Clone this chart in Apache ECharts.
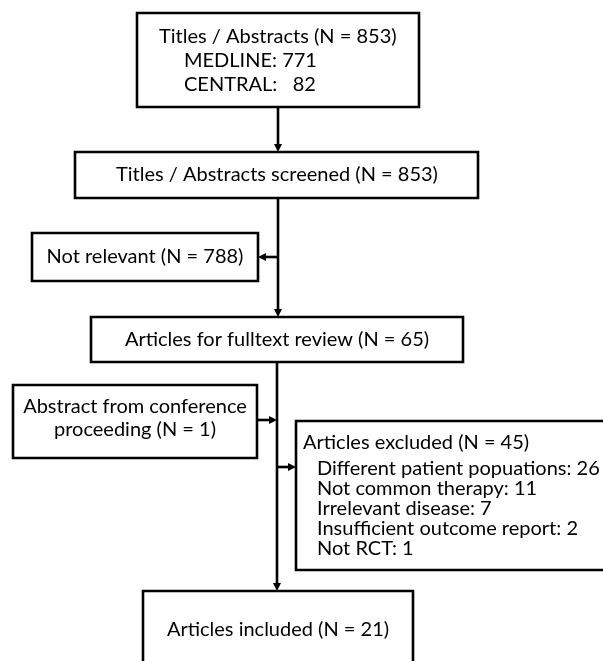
<!DOCTYPE html>
<html><head><meta charset="utf-8">
<script src="https://cdn.jsdelivr.net/npm/echarts@6/dist/echarts.min.js"></script>
<style>html,body{margin:0;padding:0;background:#fff}#c{width:603px;height:661px}</style>
</head><body><div id="c"></div>
<script>
// ---- data ----
const sourceNames = ['MEDLINE', 'CENTRAL'];
const sourceCounts = [771, 82];
const stageLabels = ['Titles / Abstracts', 'Titles / Abstracts screened', 'Not relevant',
  'Articles for fulltext review', 'Abstract from conference\nproceeding', 'Articles excluded', 'Articles included'];
const stageCounts = [853, 853, 788, 65, 1, 45, 21];
const exclusionReasons = ['Different patient popuations', 'Not common therapy', 'Irrelevant disease',
  'Insufficient outcome report', 'Not RCT'];
const exclusionCounts = [26, 11, 7, 2, 1];

// ---- layout (chart units on hidden axes) ----
const boxLayout = [
  [137, 13, 419, 107],
  [75, 152, 478, 198],
  [32, 233, 258, 281],
  [91, 317, 463, 362],
  [13, 385, 257, 458],
  [296, 421, 625, 570],
  [143, 591, 413, 720]
];
const arrowLayout = [
  [278, 107, 278, 152],
  [278, 198, 278, 317],
  [278, 257, 258, 257],
  [277, 362, 277, 591],
  [257, 420, 277, 420],
  [277, 467, 296, 467]
];

const FONT = 'Lato';
function textW(s, fs) { const c = document.createElement('canvas').getContext('2d'); c.font = fs + 'px ' + FONT; return c.measureText(s).width; }
const lbl = i => stageLabels[i] + ' (N = ' + stageCounts[i] + ')';
// fit font size to reference text widths
const fitPairs = [[lbl(0), 229], [lbl(1), 320], [lbl(3), 305], [lbl(5), 225],
  [exclusionReasons[3] + ': ' + exclusionCounts[3], 265], [exclusionReasons[0] + ': ' + exclusionCounts[0], 286]];
let sm = 0, st = 0;
fitPairs.forEach(p => { sm += textW(p[0], 20); st += p[1]; });
const fs = Math.round(20 * st / sm * 10) / 10;

const texts = [];
texts.push({ value: [159, 37], text: lbl(0), align: 'left' });
texts.push({ value: [184, 61], text: sourceNames[0] + ': ' + sourceCounts[0], align: 'left' });
texts.push({ value: [184, 85], text: sourceNames[1] + ':   ' + sourceCounts[1], align: 'left' });
texts.push({ value: [277, 175], text: lbl(1), align: 'center' });
texts.push({ value: [145, 257], text: lbl(2), align: 'center' });
texts.push({ value: [277, 340], text: lbl(3), align: 'center' });
texts.push({ value: [135, 418.5], text: lbl(4), align: 'center', lh: 23 });
texts.push({ value: [303, 443], text: lbl(5), align: 'left' });
exclusionReasons.forEach((r, i) => {
  texts.push({ value: [317, 469 + 19.8 * i], text: r + ': ' + exclusionCounts[i], align: 'left' });
});
texts.push({ value: [278, 630], text: lbl(6), align: 'center' });

const chart = echarts.init(document.getElementById('c'), null, { renderer: 'canvas' });
chart.setOption({
  animation: false,
  backgroundColor: '#fff',
  grid: { left: 0, right: 0, top: 0, bottom: 0 },
  xAxis: { type: 'value', min: 0, max: 603, show: false },
  yAxis: { type: 'value', min: 0, max: 661, inverse: true, show: false },
  series: [
    {
      type: 'custom', coordinateSystem: 'cartesian2d', clip: false,
      data: boxLayout,
      renderItem: (params, api) => {
        const p0 = api.coord([api.value(0), api.value(1)]);
        const p1 = api.coord([api.value(2), api.value(3)]);
        return { type: 'rect', shape: { x: p0[0], y: p0[1], width: p1[0] - p0[0], height: p1[1] - p0[1] },
          style: { fill: '#fff', stroke: '#000', lineWidth: 2.6 } };
      }
    },
    {
      type: 'custom', coordinateSystem: 'cartesian2d', clip: false,
      data: arrowLayout,
      renderItem: (params, api) => {
        const a = api.coord([api.value(0), api.value(1)]);
        const b = api.coord([api.value(2), api.value(3)]);
        const dx = b[0] - a[0], dy = b[1] - a[1];
        const L = Math.hypot(dx, dy), ux = dx / L, uy = dy / L;
        const len = 8, hw = 4;
        const base = [b[0] - ux * len, b[1] - uy * len];
        return { type: 'group', children: [
          { type: 'line', shape: { x1: a[0], y1: a[1], x2: base[0] + ux, y2: base[1] + uy }, style: { stroke: '#000', lineWidth: 2.6 } },
          { type: 'polygon', shape: { points: [[b[0], b[1]], [base[0] - uy * hw, base[1] + ux * hw], [base[0] + uy * hw, base[1] - ux * hw]] },
            style: { fill: '#000' } }
        ] };
      }
    },
    {
      type: 'custom', coordinateSystem: 'cartesian2d', clip: false,
      data: texts,
      renderItem: (params, api) => {
        const t = texts[params.dataIndex];
        const p = api.coord([api.value(0), api.value(1)]);
        return { type: 'text', x: p[0], y: p[1],
          style: { text: t.text, fill: '#000', fontSize: fs, fontFamily: FONT, align: t.align,
            verticalAlign: 'middle', lineHeight: t.lh || fs * 1.2 } };
      }
    }
  ]
});
</script></body></html>
